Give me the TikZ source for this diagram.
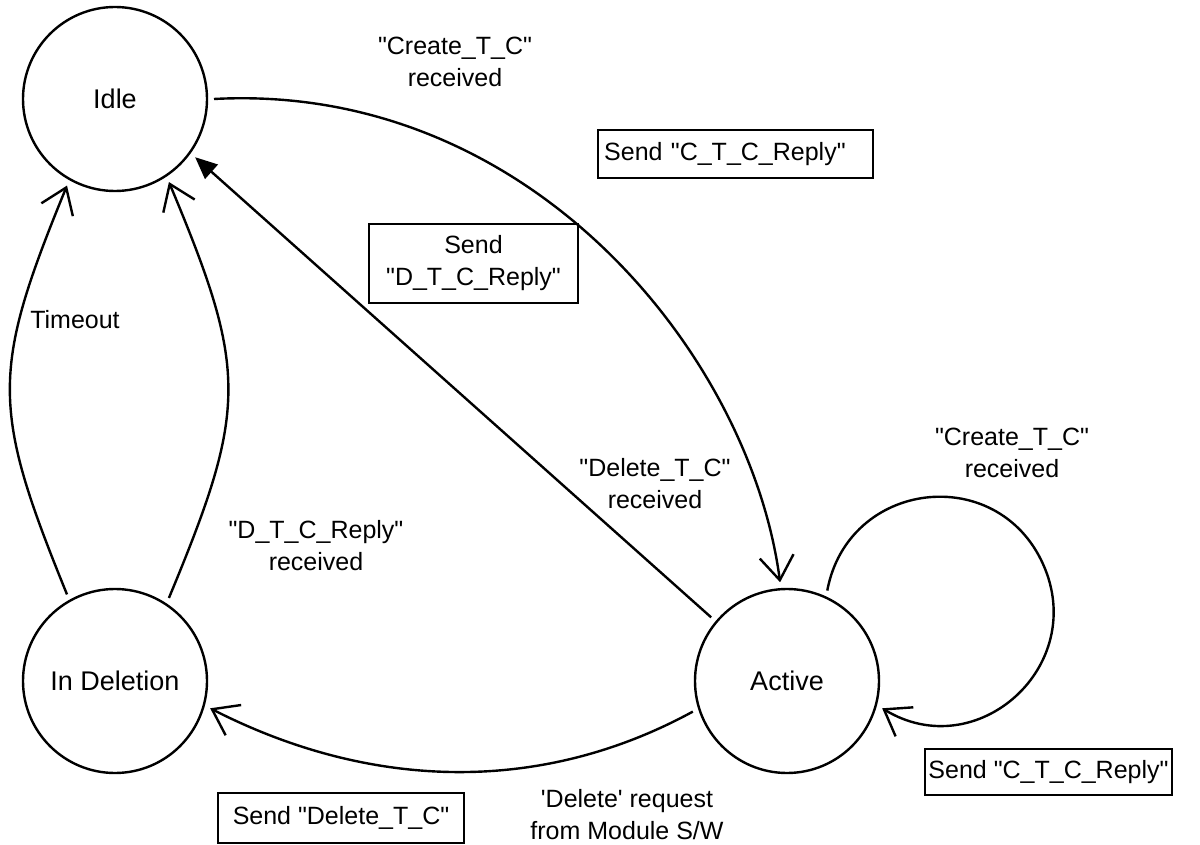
\documentclass[tikz,border=0pt]{standalone}
\usepackage{fontspec}
\setmainfont{Liberation Sans}[Ligatures=TeXOff]
\usetikzlibrary{arrows.meta}
\begin{document}
\begin{tikzpicture}[x=0.5pt,y=-0.5pt,
  every node/.style={font=\fontsize{12.5pt}{16pt}\selectfont},
  state/.style={circle, draw, line width=1.2pt, minimum size=92pt, inner sep=0pt, outer sep=3.5pt,
    font=\fontsize{13.5pt}{16pt}\selectfont},
  msgbox/.style={draw, line width=1.2pt, inner sep=0pt, align=center},
  lbl/.style={align=center, inner sep=0pt},
  conn/.style={line width=1.2pt},
  open/.style={conn, -{Straight Barb[length=12pt,width=17pt]}},
  filledtip/.style={conn, -{Triangle[length=11pt,width=9.5pt]}}
]
\useasboundingbox (0,0) rectangle (1200,845);

% states
\node[state] (idle)   at (115,99)  {Idle};
\node[state] (indel)  at (115,681) {In Deletion};
\node[state] (active) at (787,681) {Active};

% actions
\node[msgbox, text width=131.5pt, inner xsep=3pt, minimum height=24pt, align=left, anchor=west] (sendctc) at (597,154) {Send "C\_T\_C\_Reply"};
\node[msgbox, minimum width=104.5pt, minimum height=39.5pt] (senddtc) at (473.5,263.5) {Send\\"D\_T\_C\_Reply"};
\node[msgbox, minimum width=123pt, minimum height=25pt] (senddel) at (341,818) {Send "Delete\_T\_C"};
\node[msgbox, minimum width=123.5pt, minimum height=23pt] (sendctc2) at (1048.5,772) {Send "C\_T\_C\_Reply"};

% events
\node[lbl] (evcreate)  at (455,62)  {"Create\_T\_C"\\received};
\node[lbl] (evtimeout) at (75,320)  {Timeout};
\node[lbl] (evdtc)     at (316,546) {"D\_T\_C\_Reply"\\received};
\node[lbl] (evdelete)  at (655,484) {"Delete\_T\_C"\\received};
\node[lbl] (evcreate2) at (1012,453) {"Create\_T\_C"\\received};
\node[lbl] (evrequest) at (627,815) {'Delete' request\\from Module S/W};

% transitions
\coordinate (loopright) at (1043,564);
\draw[open] (idle.0) .. controls (530,82) and (750,355) .. (active.94);
\draw[filledtip] (active.140) -- (idle.-36.5);
\draw[open] (active.198) .. controls (540,795) and (370,790) .. (indel.-16);
\draw[open] (indel.119) .. controls (-9,408) and (-9,371) .. (idle.-119.5);
\draw[open] (indel.57) .. controls (248,408) and (248,371) .. (idle.-57.4);
\draw[open] (active.66) .. controls (848,480) and (997,462) .. (loopright)
            .. controls (1089,666) and (977,766) .. (active.-16);
\end{tikzpicture}
\end{document}
